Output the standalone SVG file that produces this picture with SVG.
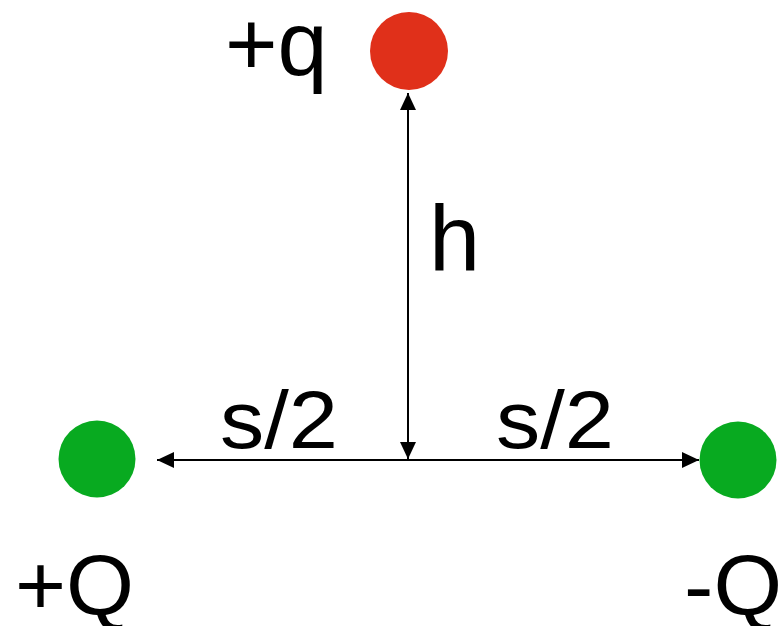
<svg xmlns="http://www.w3.org/2000/svg" width="784" height="626" viewBox="0 0 784 626">
<defs>
<style>
.lbl{font-family:"Liberation Sans",Arial,sans-serif;fill:#000;}
.ln{stroke:#000;stroke-width:2;fill:none;}
</style>
<marker id="ah" viewBox="0 0 17 16" refX="17" refY="8" markerWidth="17" markerHeight="16" markerUnits="userSpaceOnUse" orient="auto-start-reverse">
<path d="M0,0 L17,8 L0,16 Z" fill="#000"/>
</marker>
</defs>
<rect width="784" height="626" fill="#fff"/>
<g id="connectors">
<line class="ln" x1="408" y1="93" x2="408" y2="459" marker-start="url(#ah)" marker-end="url(#ah)"/>
<line class="ln" x1="157" y1="460" x2="699" y2="460" marker-start="url(#ah)" marker-end="url(#ah)"/>
</g>
<g id="charge-q">
<circle cx="409" cy="51" r="39" fill="#e0301a"/>
<text class="lbl" x="225" y="75" font-size="90">+q</text>
</g>
<g id="charge-plusQ">
<circle cx="97" cy="459" r="38.5" fill="#08aa20"/>
<text class="lbl" x="15" y="615" font-size="85" textLength="119" lengthAdjust="spacingAndGlyphs">+Q</text>
</g>
<g id="charge-minusQ">
<circle cx="738" cy="460" r="38.5" fill="#08aa20"/>
<text class="lbl" x="684" y="615" font-size="85" textLength="98" lengthAdjust="spacingAndGlyphs">-Q</text>
</g>
<g id="label-h">
<text class="lbl" x="429" y="270" font-size="92">h</text>
</g>
<g id="label-s2-left">
<text class="lbl" x="220" y="448" font-size="82" textLength="118" lengthAdjust="spacingAndGlyphs">s/2</text>
</g>
<g id="label-s2-right">
<text class="lbl" x="496" y="448" font-size="82" textLength="118" lengthAdjust="spacingAndGlyphs">s/2</text>
</g>
</svg>
